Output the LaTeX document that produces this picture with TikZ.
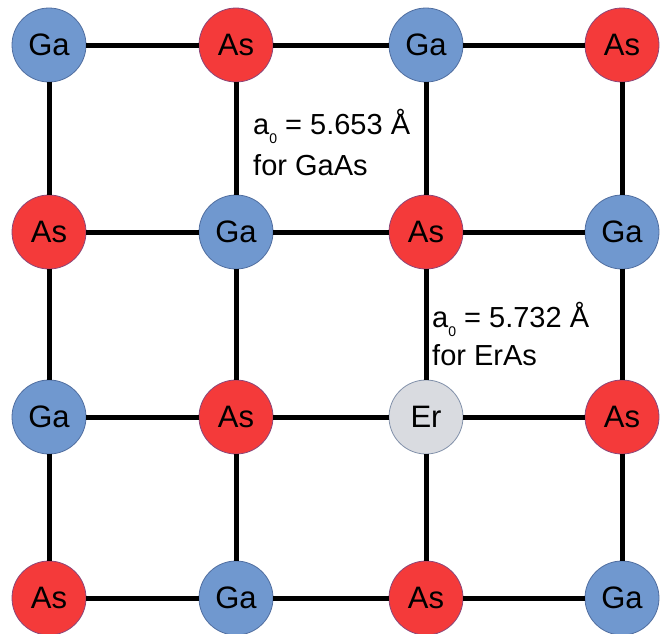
\documentclass[tikz,border=0pt]{standalone}
\usepackage{fontspec}
\setmainfont{Liberation Sans}
\definecolor{gafill}{RGB}{112,152,207}
\definecolor{gadraw}{RGB}{80,110,160}
\definecolor{asfill}{RGB}{244,58,58}
\definecolor{asdraw}{RGB}{140,70,120}
\definecolor{erfill}{RGB}{217,219,224}
\definecolor{erdraw}{RGB}{130,145,170}
\begin{document}
\begin{tikzpicture}[x=1pt,y=-1pt,
  atom/.style={circle,minimum size=74pt,inner sep=0pt,line width=0.8pt,
    font=\fontsize{31}{31}\selectfont},
  Ga/.style={atom,fill=gafill,draw=gadraw},
  As/.style={atom,fill=asfill,draw=asdraw},
  Er/.style={atom,fill=erfill,draw=erdraw},
  bond/.style={line width=5pt,black},
  lbl/.style={anchor=base west,inner sep=0pt,font=\fontsize{29}{29}\selectfont}]
\useasboundingbox (0,0) rectangle (662,633);
\fill[white] (0,0) rectangle (662,633);
% atoms
\def\cols{{49,236,426,622}}
\def\rows{{45,232,417,598}}
\foreach \r/\c/\t in {0/0/Ga,0/1/As,0/2/Ga,0/3/As,
                       1/0/As,1/1/Ga,1/2/As,1/3/Ga,
                       2/0/Ga,2/1/As,2/2/Er,2/3/As,
                       3/0/As,3/1/Ga,3/2/As,3/3/Ga}{
  \pgfmathsetmacro\xx{\cols[\c]}
  \pgfmathsetmacro\yy{\rows[\r]}
  \node[\t] (n\r\c) at (\xx,\yy) {\t};
}
% bonds
\foreach \r in {0,1,2,3}{
  \foreach \c/\d in {0/1,1/2,2/3}{
    \draw[bond] (n\r\c) -- (n\r\d);
    \draw[bond] (n\c\r) -- (n\d\r);
  }
}
% labels
\node[lbl] (l1a) at (253,134) {a\raisebox{-0.32em}{\fontsize{14}{14}\selectfont 0} = 5.653 Å};
\node[lbl] (l1b) at (253,175) {for GaAs};
\node[lbl] (l2a) at (432,327) {a\raisebox{-0.32em}{\fontsize{14}{14}\selectfont 0} = 5.732 Å};
\node[lbl] (l2b) at (432,365) {for ErAs};
\end{tikzpicture}
\end{document}
